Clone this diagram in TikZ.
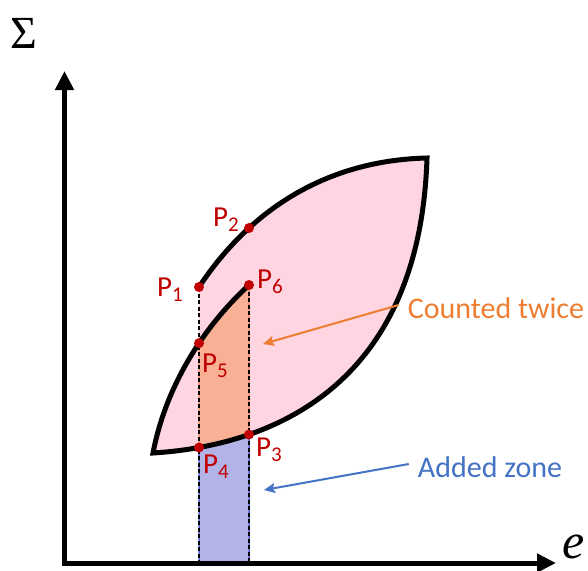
\documentclass[tikz,border=0pt]{standalone}
\usepackage{fontspec}
\setmainfont{Carlito}
\newfontfamily\symserif{Liberation Serif}
\usetikzlibrary{arrows.meta,intersections}
\definecolor{pinkfill}{RGB}{255,213,225}
\definecolor{orangefill}{RGB}{249,176,148}
\definecolor{orangeedge}{RGB}{240,150,110}
\definecolor{bluefill}{RGB}{178,180,232}
\definecolor{blueedge}{RGB}{90,100,210}
\definecolor{ptred}{RGB}{192,0,0}
\definecolor{orangetxt}{RGB}{237,125,49}
\definecolor{bluetxt}{RGB}{68,114,196}
\newcommand{\Plab}[1]{P\raisebox{-0.18em}{\fontsize{21}{21}\selectfont #1}}
\tikzset{
  axisline/.style={line width=5pt,-{Triangle[length=19pt,width=18pt]}},
  outline/.style={line width=5pt,black},
  guide/.style={line width=1.3pt,black,dash pattern=on 4pt off 2.5pt},
  ptdot/.style={circle,fill=ptred,inner sep=0pt,minimum size=10pt},
  plabel/.style={text=ptred,inner sep=0pt,font=\fontsize{29}{30}\selectfont},
  note/.style={inner sep=0pt,font=\fontsize{30}{31}\selectfont},
  pointer/.style={line width=2pt,-{Stealth[length=11pt,width=10pt,inset=2pt]}},
  mathlbl/.style={inner sep=0pt,font=\symserif\fontsize{46}{46}\selectfont}
}
\begin{document}
\begin{tikzpicture}[x=1pt,y=-1pt]
\useasboundingbox (0,0) rectangle (588,570);
% curves
\path[name path=outer] (199,287) .. controls (258,198) and (340,160) .. (427,158);
\path[name path=lower] (427,158) .. controls (420,380) and (280,445) .. (153,453);
\path[name path=inner] (153,453) .. controls (165,390) and (200,330) .. (249,285);
\path[name path=leftv] (199,100) -- (199,600);
\path[name path=rightv] (249,100) -- (249,600);
\path[name intersections={of=outer and rightv,by=P2}];
\path[name intersections={of=lower and rightv,by=P3}];
\path[name intersections={of=lower and leftv,by=P4}];
\path[name intersections={of=inner and leftv,by=P5}];
\coordinate (P1) at (199,287);
\coordinate (P6) at (249,285);
\coordinate (B4) at (199,563);
\coordinate (B3) at (249,563);
% pink region
\fill[pinkfill] (199,287) .. controls (258,198) and (340,160) .. (427,158)
  .. controls (420,380) and (280,445) .. (153,453)
  .. controls (165,390) and (200,330) .. (249,285) -- cycle;
\begin{scope}
\clip (199,0) rectangle (300,570);
\fill[pinkfill] (199,287) .. controls (258,198) and (340,160) .. (427,158)
  .. controls (420,380) and (280,445) .. (153,453) -- cycle;
\end{scope}
% orange region
\begin{scope}
\clip (199,0) rectangle (249,570);
\clip (153,453) .. controls (165,390) and (200,330) .. (249,285) -- (600,285) -- (600,600) -- (153,600) -- cycle;
\fill[orangefill] (427,158) .. controls (420,380) and (280,445) .. (153,453) -- (0,453) -- (0,0) -- (427,0) -- cycle;
\end{scope}
% blue region
\begin{scope}
\clip (199,0) rectangle (249,570);
\fill[bluefill] (427,158) .. controls (420,380) and (280,445) .. (153,453) -- (153,563) -- (600,563) -- (600,158) -- cycle;
\end{scope}
% region edges
\draw[orangeedge,line width=1.5pt] (P5) -- (P4) (P6) -- (P3);
\draw[blueedge,line width=1.5pt] (P4) -- (B4) (P3) -- (B3);
% dashed guides
\draw[guide] (P1) -- (B4);
\draw[guide] (P6) -- (B3);
% outline
\draw[outline] (199,287) .. controls (258,198) and (340,160) .. (427,158)
  .. controls (420,380) and (280,445) .. (153,453)
  .. controls (165,390) and (200,330) .. (249,285);
% axes
\coordinate (O) at (64.5,563);
\coordinate (Ytip) at (64.5,71);
\coordinate (Xtip) at (556,563);
\draw[axisline] (O) -- (Ytip);
\draw[axisline] ([xshift=-2.5pt]O) -- (Xtip);
\node[mathlbl] (sig) at (24,33) {Σ};
\node[mathlbl,font=\symserif\itshape\fontsize{50}{50}\selectfont] (ee) at (574,547) {e};
% points
\foreach \p in {P1,P2,P3,P4,P5,P6} \node[ptdot] (d\p) at (\p) {};
\node[plabel] (l1) at (170,290) {\Plab{1}};
\node[plabel] (l2) at (226,220) {\Plab{2}};
\node[plabel] (l3) at (269,450) {\Plab{3}};
\node[plabel] (l4) at (216,467) {\Plab{4}};
\node[plabel] (l5) at (215,366) {\Plab{5}};
\node[plabel] (l6) at (270,282) {\Plab{6}};
% notes
\node[note,text=orangetxt] (ct) at (496,308) {Counted twice};
\node[note,text=bluetxt] (az) at (490,467) {Added zone};
\coordinate (oa) at (263,344);
\coordinate (ba) at (264,490);
\draw[pointer,orangetxt] ([xshift=-9pt,yshift=3pt]ct.west) -- (oa);
\draw[pointer,bluetxt] ([xshift=-9pt,yshift=3pt]az.west) -- (ba);
\end{tikzpicture}
\end{document}
